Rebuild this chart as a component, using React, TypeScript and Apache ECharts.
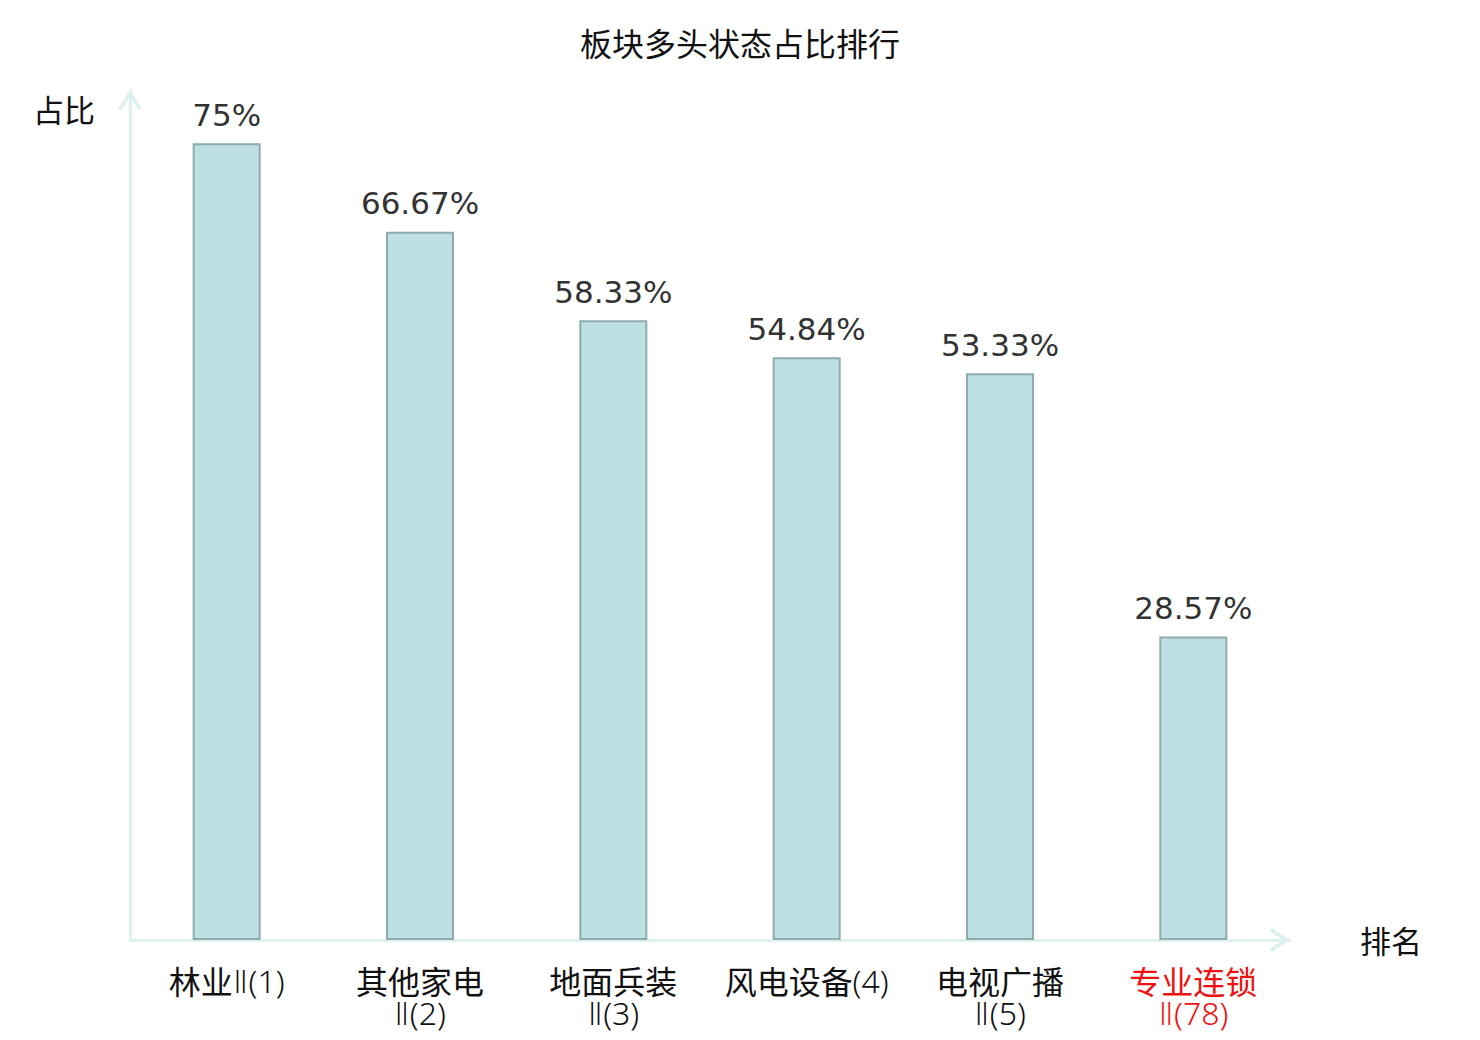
import React, { useEffect, useRef } from "react";
import * as echarts from "echarts";

const titleText = "板块多头状态占比排行";
const sectorNames = ["林业Ⅱ", "其他家电Ⅱ", "地面兵装Ⅱ", "风电设备", "电视广播Ⅱ", "专业连锁Ⅱ"];
const sectorRanks = [1, 2, 3, 4, 5, 78];
const ratioValues = [75, 66.67, 58.33, 54.84, 53.33, 28.57];
const highlightIndex = 5;
const yAxisName = "占比";
const xAxisName = "排名";

const categories = sectorNames.map((n, i) => `${n}(${sectorRanks[i]})`);

const CJK = '"Noto Sans CJK SC", sans-serif';
const THIN = '"Noto Sans", "DejaVu Sans", "Noto Sans CJK SC", sans-serif';
const chevron = "path://M12,0 L24,19 L20.5,21 L12,7 L3.5,21 L0,19 Z";

const axisLineCommon = {
  show: true,
  lineStyle: { color: "#dff1ee", width: 3 },
  symbol: ["none", chevron],
  symbolSize: [24, 22],
  symbolOffset: [0, -10],
};

export default function App() {
  const ref = useRef<HTMLDivElement>(null);
  useEffect(() => {
    if (!ref.current) return;
    const chart = echarts.init(ref.current, undefined, { renderer: "svg" });
    chart.setOption({
      animation: false,
      backgroundColor: "#ffffff",
      title: {
        text: titleText,
        left: "center",
        top: 21,
        textStyle: { fontFamily: CJK, fontSize: 32, fontWeight: "normal", color: "#111" },
      },
      grid: { left: 130, right: 190, top: 90, bottom: 100, containLabel: false },
      xAxis: {
        type: "category",
        data: categories,
        axisLine: axisLineCommon,
        axisTick: { show: false },
        axisLabel: {
          interval: 0,
          margin: 24,
          lineHeight: 32,
          formatter: (value: string, idx: number) => {
            const name = sectorNames[idx];
            const rank = sectorRanks[idx];
            const hi = idx === highlightIndex;
            const a = hi ? "ar" : "a";
            const b = hi ? "br" : "b";
            if (name.endsWith("Ⅱ") && name.length > 3) {
              return `{${a}|${name.slice(0, -1)}}\n{${b}|Ⅱ(${rank})}`;
            }
            if (name.endsWith("Ⅱ")) {
              return `{${a}|${name.slice(0, -1)}}{${b}|Ⅱ(${rank})}`;
            }
            return `{${a}|${name}}{${b}|(${rank})}`;
          },
          rich: {
            a: { fontFamily: CJK, fontSize: 32, color: "#111", lineHeight: 32 },
            b: { fontFamily: THIN, fontSize: 32, color: "#111", fontWeight: 300, lineHeight: 32 },
            ar: { fontFamily: CJK, fontSize: 32, color: "#ee1111", lineHeight: 32 },
            br: { fontFamily: THIN, fontSize: 32, color: "#ee1111", fontWeight: 300, lineHeight: 32 },
          },
        },
      },
      yAxis: {
        type: "value",
        min: 0,
        max: 80,
        splitLine: { show: false },
        axisLabel: { show: false },
        axisTick: { show: false },
        axisLine: axisLineCommon,
      },
      graphic: [
        {
          type: "text",
          left: 33,
          top: 93,
          style: { text: yAxisName, font: `31px ${CJK}`, fill: "#111" },
        },
        {
          type: "text",
          left: 1360,
          top: 924,
          style: { text: xAxisName, font: `31px ${CJK}`, fill: "#111" },
        },
      ],
      series: [
        {
          type: "bar",
          data: ratioValues,
          barWidth: 68,
          itemStyle: { color: "#bce0e3", borderColor: "#8fabad", borderWidth: 2 },
          label: {
            show: true,
            position: "top",
            distance: 13,
            formatter: (p: any) => `${p.value}%`,
            fontFamily: '"DejaVu Sans", sans-serif',
            fontSize: 31,
            color: "#333",
          },
        },
      ],
    });
    return () => chart.dispose();
  }, []);
  return (
    <div
      ref={ref}
      style={{ position: "absolute", left: 0, top: 0, width: 1480, height: 1040 }}
    />
  );
}
